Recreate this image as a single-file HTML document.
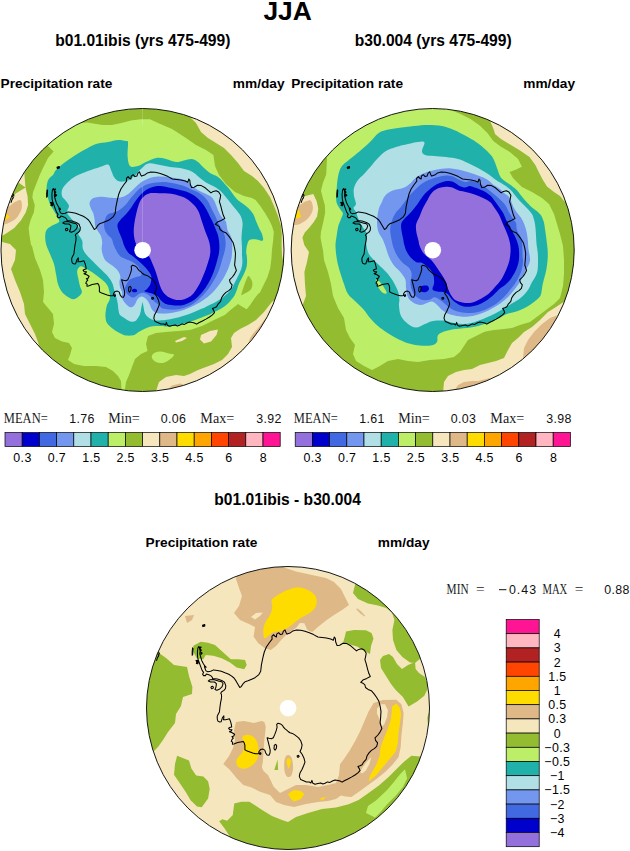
<!DOCTYPE html>
<html><head><meta charset="utf-8"><title>JJA Precipitation rate</title>
<style>html,body{margin:0;padding:0;background:#fff}svg{display:block}</style>
</head><body>
<svg width="630" height="851" viewBox="0 0 630 851">
<style>
text{font-family:"Liberation Sans",sans-serif;fill:#000}
.b{font-weight:bold}
.ser{font-family:"Liberation Serif",serif;font-size:14px;fill:#1a1a1a}
.num{font-family:"Liberation Sans",sans-serif;font-size:12.4px;fill:#111;letter-spacing:0.35px}
</style>
<rect width="630" height="851" fill="#fff"/>
<text class="b" x="287.6" y="20.4" font-size="26.4" text-anchor="middle">JJA</text>
<text class="b" x="142.8" y="45.5" font-size="15.6" text-anchor="middle">b01.01ibis (yrs 475-499)</text>
<text class="b" x="433.2" y="45.5" font-size="15.6" text-anchor="middle">b30.004 (yrs 475-499)</text>
<text class="b" x="0.6" y="88.2" font-size="13.7">Precipitation rate</text>
<text class="b" x="284.6" y="88.2" font-size="13.7" text-anchor="end">mm/day</text>
<text class="b" x="291.2" y="88.2" font-size="13.7">Precipitation rate</text>
<text class="b" x="575" y="88.2" font-size="13.7" text-anchor="end">mm/day</text>
<text class="b" x="287.6" y="505" font-size="15.6" text-anchor="middle">b01.01ibis - b30.004</text>
<text class="b" x="145.6" y="546.6" font-size="13.7">Precipitation rate</text>
<text class="b" x="429.6" y="546.6" font-size="13.7" text-anchor="end">mm/day</text>
<clipPath id="cp1"><circle cx="142.5" cy="250" r="141.5"/></clipPath>
<g clip-path="url(#cp1)" shape-rendering="geometricPrecision">
<rect x="-1" y="106.5" width="287" height="287" fill="#BCEE68"/>
<path fill="#93BC30" fill-rule="evenodd" d="M-50 -50H700V900H-50ZM140.5 119.3 150 119.2 158 123 172 129 186 138 196 145 206 150 213.4 155 215 166 219 175 226 184 235 192 244 196 252 198 255.6 200 260.3 205.9 265 212.9 269.1 220 272 225.9 273.8 231.7 273.2 240 272 249.4 271.4 258.8 270.2 268.2 267.3 277.6 262.6 287 260 292.6 258.1 294 254.3 298.8 250.5 304.5 246.7 309.3 241.9 306.4 238.1 304 231.4 309.3 224.8 315 214 320 202 326 190 330 178 331 166 332 156 333 148 336 146 344 147.5 351 141 354 135 359 132 367 129 375 126 382 124.5 393 121.5 389 121 381 118 376 113 371 106 367 96 366 84 366 74 364 68 360 70 355 72 348 69 343 62 341.5 55 338 52 332 54 324 53 314 48 308 43 302 44 292 43 280 40 270 35 258 32 246 31 245 29.5 235.5 28.6 227.9 30.5 220.2 33.8 212.6 34.8 205 32.4 197.4 32.9 192.6 36.2 184 40 174.5 43 168 48 158 53.6 151.6 49 147 42 140 72 114 81.4 123.1 87.1 122.5 94.8 123.7 102.4 125 111.9 125 121.4 123.1 131 120.6Z"/>
<path fill="#93BC30" d="M248.6 276C249.4 276.2 250.8 278.4 251.4 279.8C252 281.2 252.5 282.9 252.4 284.5C252.3 286.1 251.8 288 251 289.3C250.2 290.6 248.8 291.3 247.6 292.1C246.4 292.9 244.8 293.5 243.8 294C242.8 294.5 241.6 295.8 241.4 295C241.2 294.2 242.3 291.2 242.9 289.3C243.5 287.4 244.2 285.4 244.8 283.6C245.4 281.9 246.1 280.1 246.7 278.8C247.3 277.5 247.8 275.8 248.6 276Z"/>
<path fill="#BCEE68" d="M153 354C154.3 352.9 157.3 351.7 160 351.6C162.7 351.5 166.7 353 169 353.6C171.3 354.2 174 353.9 174 355C174 356.1 170.8 358.7 169 360C167.2 361.3 165.2 362.7 163 363C160.8 363.3 157.8 362.8 156 362C154.2 361.2 152.5 359.3 152 358C151.5 356.7 151.7 355.1 153 354Z"/>
<path fill="#F5E6BE" d="M190 117 192 119 196 123 201 132 208 138 216 143 224 148 231 155 238 163 244 171 252 176 258 181 264 188 270 197 274 206 278 216 281 226 281.8 234 281.6 245 282 256 283.6 263 292 264 292 100 190 100Z"/>
<path fill="#F5E6BE" d="M273 301 271 303 264 312 256 320 248 325 240 329 234 333 231 338 232 347 228 354 222 360 214 364 206 367 198 370 190 374 184 376 176 375 166 377 159 382 157 388 156 392 150 402 292 402 292 298Z"/>
<path fill="#F5E6BE" d="M175 341 184 337 187 338 182 341 176 342.4Z"/>
<path fill="#F5E6BE" d="M201 335 210 331 218 329.5 216.5 335 211 341.5 204 343.5 200 339.5Z"/>
<path fill="#F5E6BE" d="M24.3 173 25.5 187.4 27.6 196.4 28.1 205 25.7 212.6 21 220.2 14.3 227.9 7.6 232.6 2.9 235.5 -6 236 -6 170Z"/>
<path fill="#93BC30" d="M17 181.5 25.5 187.4 15.7 193.6 10 200.5 4 200 10 181Z"/>
<path fill="#F5E6BE" d="M0 241 4 242.5 10 244 16 250 15 260 11 269 15 280 20 292 24 304 25 314 30 324 35 334 38 342 39.6 348.5 30 352 -6 300 -6 241Z"/>
<path fill="#DEB887" d="M8.1 206.9C11 206.2 11.2 204.2 13.3 203.1C15.4 202 19.1 199.6 20.5 200.2C21.9 200.8 22 204.8 21.9 206.9C21.8 209 20.9 210.7 20 212.6C19.1 214.5 17.8 216.7 16.2 218.3C14.6 219.9 12.5 221.1 10.5 222.1C8.5 223.1 6.7 224 4.3 224.5C1.9 225 -2.6 227.9 -4 225C-5.4 222.1 -6 210 -4 207C-2 204 5.2 207.6 8.1 206.9Z"/>
<path fill="#FFDC00" d="M6.2 213.4 10 216.9 5.2 220 1 220 1 213Z"/>
<path fill="#DEB887" d="M264.5 319.5 262.2 322.8 257.2 328.9 252.8 333.9 250 338.3 248.3 343.5 260 350 290 325Z"/>
<path fill="#DEB887" d="M166 391 172 385.5 180 383.4 185 385 189 391Z"/>
<path fill="#20B2AA" d="M126 141C124.3 140.6 121 139.8 118 140C115 140.2 111.7 141.3 108 142C104.3 142.7 100 142.7 96 144C92 145.3 87.7 148 84 150C80.3 152 77.3 153.8 74 156C70.7 158.2 67 160.7 64 163C61 165.3 57.8 168.1 56 170C54.2 171.9 54.5 172.9 53.3 174.5C52.1 176.1 49.7 177.4 48.6 179.3C47.5 181.2 47 183.6 46.7 186C46.5 188.4 46.6 190.8 47.1 193.6C47.6 196.4 48.5 200.4 49.5 203.1C50.5 205.8 52 207.6 53.3 209.8C54.6 212 56.1 214.4 57.1 216.4C58.1 218.4 60 220.5 59 222.1C58 223.7 53.4 224.7 51.4 226C49.4 227.3 47.7 228.2 46.7 229.8C45.7 231.4 45.3 233.1 45.2 235.5C45.1 237.9 45.2 240.9 46 244C46.8 247.1 48.7 250.7 50 254C51.3 257.3 53 260.7 54 264C55 267.3 55.3 270.7 56 274C56.7 277.3 57 281 58 284C59 287 60.3 289.8 62 292C63.7 294.2 65.9 295.8 68 297C70.1 298.2 72.1 299.7 74.4 299C76.7 298.3 80.8 295 81.7 292.9C82.6 290.8 80.6 288.6 80 286.2C79.4 283.8 78.8 281 78.3 278.4C77.8 275.8 76.8 272.7 77.2 270.7C77.6 268.7 79.2 266.6 80.6 266.2C82 265.8 83.7 267.4 85.6 268.4C87.5 269.4 90 270.8 92.2 272.3C94.4 273.8 96.9 275.7 98.9 277.3C100.9 278.9 102.9 280.3 104.4 281.8C105.9 283.3 107 284.5 107.8 286.2C108.6 287.9 109 290.2 109.4 291.8C109.8 293.4 110 294.6 110 296C110 297.4 110 298.5 109.5 300C109 301.5 107.6 303.2 107 305C106.4 306.8 106 309 105.8 311C105.5 313 105.3 315 105.5 317C105.7 319 105.8 321.1 107 323C108.2 324.9 110.4 326.8 112.5 328.5C114.6 330.2 117.2 331.8 119.5 333C121.8 334.2 123.5 335.2 126 335.5C128.5 335.8 132.2 335.6 134.3 335C136.4 334.4 136.9 333.1 138.6 332.1C140.3 331.1 142.4 329.8 144.3 328.9C146.2 328 148.1 327.3 150 326.8C151.9 326.3 153.8 326.1 155.7 326C157.6 325.9 159.2 325.9 161.4 326C163.6 326.1 165.3 326.8 168.6 326.5C171.9 326.2 177.3 325.1 181.3 324.2C185.3 323.3 188.7 322.2 192.4 321C196.1 319.8 200.7 317.8 203.5 316.7C206.3 315.6 207.7 315.3 209.5 314.5C211.3 313.7 212.6 313 214.3 312.1C216.1 311.2 218.1 310.4 220 309.3C221.9 308.2 223.9 306.9 225.7 305.5C227.4 304.1 229 302.4 230.5 300.7C232 298.9 233.7 296.9 234.8 295C235.9 293.1 236.4 291.2 237.1 289.3C237.8 287.4 238.2 285.5 239 283.6C239.8 281.7 240.9 279.8 241.9 277.9C242.9 276 244 274 244.8 272.1C245.6 270.2 246.3 268.3 246.7 266.4C247.1 264.5 247.1 262.6 247.1 260.7C247.1 258.8 246.8 256.3 246.7 255C246.5 253.7 246.2 254.2 246.2 252.9C246.2 251.6 246.3 249 246.7 247C247.1 245 247.8 242.4 248.5 241.1C249.2 239.8 249.5 239.7 250.9 239.4C252.3 239.1 254.7 239.2 256.7 239.4C258.7 239.6 261.9 241.4 262.8 240.5C263.7 239.6 262.6 236.2 262 234.1C261.4 232 260.1 230.3 259.1 228.2C258.1 226 257.1 223.5 256.1 221.2C255.1 218.8 254.5 216.3 253.2 214.1C251.9 211.9 250.3 210 248.5 208.2C246.7 206.4 244.5 205 242.6 203.5C240.7 202 238.9 201.2 236.8 199C234.7 196.8 232.1 192.7 230 190C227.9 187.3 226 185.2 224 183C222 180.8 220.3 178.7 218 177C215.7 175.3 212.3 174.5 210 173C207.7 171.5 206 169.8 204 168C202 166.2 200 163.5 198 162C196 160.5 194.3 159.3 192 159C189.7 158.7 186.7 159.9 184 160.4C181.3 160.9 179 162.2 176 162C173 161.8 169.3 159.7 166 159C162.7 158.3 159.3 157.5 156 158C152.7 158.5 149 160.7 146 162C143 163.3 140.7 165.3 138 166C135.3 166.7 131.7 167.7 130 166C128.3 164.3 127.9 159.9 127.6 156C127.3 152.1 128.3 144.9 128 142.4C127.7 139.9 127.7 141.4 126 141Z"/>
<path fill="#B0E0E6" d="M148.4 163.5C145.2 164.2 143.2 167 141 169C138.8 171 137 173.6 135 175.4C133 177.2 130.8 179 129 180C127.2 181 125.8 181.3 124 181.5C122.2 181.7 119.7 181.8 118 181C116.3 180.2 115.2 178.8 114 177C112.8 175.2 112 172.1 111 170C110 167.9 109.8 165.1 108 164.6C106.2 164.1 103.3 165.9 100 167C96.7 168.1 92 169.5 88 171C84 172.5 79.3 174.2 76 176C72.7 177.8 70.3 179.8 68 182C65.7 184.2 63.4 186.7 62.4 189C61.4 191.3 61.4 194 62 196C62.6 198 64.8 199.3 66 201C67.2 202.7 68.8 204.2 69 206C69.2 207.8 66.8 210.2 67 212C67.2 213.8 68.5 215 70 217C71.5 219 74.3 221.8 76 224C77.7 226.2 79.6 228.3 80 230C80.4 231.7 77.9 232.2 78.3 234C78.7 235.8 81.5 238.3 82.2 240.7C83 243.1 82 246 82.8 248.4C83.5 250.8 85 252.9 86.7 255.1C88.5 257.3 90.9 259.4 93.3 261.8C95.7 264.2 98.7 267.2 101.1 269.6C103.5 272 105.9 274 107.8 276.2C109.7 278.4 111.1 280.5 112.2 282.9C113.3 285.3 113.7 288.1 114.4 290.7C115.2 293.3 116.1 296.2 116.7 298.4C117.3 300.6 117.5 302.1 117.8 304C118.1 305.9 118.1 308.2 118.5 310C118.9 311.8 119 313.7 120 315C121 316.3 122.9 316.9 124.3 317.9C125.7 318.8 127.3 320 128.6 320.7C129.9 321.4 130.9 321.8 132.1 321.8C133.3 321.8 134.7 321.4 135.7 320.7C136.7 320 137.1 319 137.9 317.9C138.7 316.8 139.6 315.3 140.4 314.3C141.2 313.3 141.8 312.1 142.5 312C143.2 311.9 143.7 312.8 144.6 313.6C145.5 314.5 146.8 316.2 147.9 317.1C149 318.1 150.1 318.8 151.4 319.3C152.7 319.9 154.3 320.2 155.7 320.4C157.1 320.6 158.4 320.5 160 320.4C161.6 320.3 162.8 320.3 165 320C167.2 319.7 170.3 319.2 173.3 318.5C176.3 317.8 179.7 316.9 182.9 315.9C186.1 314.9 189.4 313.8 192.4 312.7C195.4 311.6 198.9 309.9 201 309C203.1 308.1 203.2 308.1 204.8 307.4C206.4 306.6 208.6 305.4 210.5 304.5C212.4 303.6 214.4 302.6 216.2 301.7C217.9 300.8 219.4 299.9 221 298.8C222.6 297.7 224.3 296.3 225.7 295C227.1 293.7 228.3 292.6 229.5 291.2C230.7 289.8 232 288 232.9 286.4C233.8 284.8 234.4 283.3 235.2 281.7C236 280.1 236.8 278.5 237.6 276.9C238.4 275.3 239.3 273.9 240 272.1C240.7 270.4 241.5 268.3 241.9 266.4C242.3 264.5 242.4 262.6 242.4 260.7C242.4 258.8 242.1 257.3 242 255C241.9 252.7 242.1 249.7 242 247C241.9 244.3 241.5 241.5 241.5 238.8C241.5 236.1 241.8 233.2 242 230.6C242.2 228 242.8 225.8 242.6 223.5C242.4 221.2 241.9 218.7 240.9 216.5C239.9 214.3 238.3 212.6 236.8 210.6C235.3 208.6 233.6 206.6 232 204.7C230.4 202.8 229.2 201.2 227.4 199C225.6 196.8 223.2 193.6 221 191.5C218.8 189.4 216.5 188 214 186.5C211.5 185 208.3 183.9 206 182.5C203.7 181.1 202 179.6 200 178C198 176.4 196 174.3 194 173C192 171.7 190.3 170.8 188 170C185.7 169.2 183 168.5 180 168C177 167.5 173.3 167.5 170 167C166.7 166.5 163.6 165.6 160 165C156.4 164.4 151.6 162.8 148.4 163.5Z"/>
<path fill="#20B2AA" d="M139.6 315.5 140.8 311 141.6 306 142.5 301.8 143.4 306 144.2 311 145.4 315Z"/>
<path fill="#7397EE" d="M160 176.5C157.1 176.4 155.8 176.7 153.7 177.1C151.6 177.5 149.4 178.2 147.3 179C145.2 179.8 142.9 180.9 141 182.2C139.1 183.5 137.6 185.1 135.9 186.7C134.2 188.3 132.5 190.2 130.8 191.7C129.1 193.2 127.4 194.6 125.7 195.6C124 196.6 122.5 197.1 120.6 197.5C118.7 197.9 116.4 198.1 114.3 198.1C112.2 198.1 110 197.7 107.9 197.5C105.8 197.3 103.7 196.8 101.6 196.8C99.5 196.8 96.9 197.1 95.2 197.5C93.5 197.9 92.4 198.5 91.4 199.4C90.5 200.3 89.6 201.7 89.5 203.2C89.4 204.7 90.2 206.6 90.8 208.3C91.4 210 92.7 211.4 93.3 213.3C93.9 215.2 94.3 217.6 94.6 219.7C94.9 221.8 94.7 224.1 95.2 226C95.7 227.9 96.8 229.4 97.8 231.1C98.8 232.8 100.3 234.3 101 236.2C101.7 238.1 102.1 240.4 102.2 242.5C102.3 244.6 101.5 246.8 101.6 248.9C101.7 251 102.2 253.2 102.9 255.2C103.6 257.2 104.3 259.2 106 261C107.7 262.8 111.3 264.6 113.3 266.2C115.3 267.8 116.6 269 117.8 270.7C119 272.4 120 274.4 120.3 276.2C120.6 278 119.5 279.9 119.4 281.7C119.4 283.5 119.5 285.3 120 287.2C120.5 289.1 121.9 291.1 122.2 292.8C122.5 294.5 121.7 295.9 122 297.5C122.3 299.1 123.2 300.6 124.3 302.1C125.4 303.6 127.3 305.6 128.6 306.4C129.9 307.2 131 307.5 132.1 307.1C133.2 306.8 134.2 305.5 135 304.3C135.8 303.1 136.3 301.2 137.1 300C137.9 298.8 139 297.6 140 297.1C141 296.6 141.8 296.4 142.9 296.8C144 297.2 145.3 298.2 146.4 299.3C147.5 300.4 148.5 302.1 149.3 303.6C150.1 305.2 150.6 307.2 151.4 308.6C152.2 310 153.2 311.3 154.3 312.1C155.4 312.9 156.6 312.9 157.9 313.2C159.2 313.4 160.6 313.6 162.1 313.6C163.6 313.7 164.9 313.7 167 313.5C169.1 313.3 172 312.9 174.9 312.3C177.8 311.7 181.2 310.9 184.4 309.8C187.6 308.7 190.8 307.2 194 305.6C197.2 304 200.6 302 203.5 300C206.4 298 209 295.9 211.4 293.7C213.8 291.4 215.8 289 217.8 286.5C219.8 284 221.6 281.5 223.3 278.6C225 275.7 226.8 272 228.1 269C229.3 266 230.2 262.8 230.8 260.7C231.4 258.6 231.5 258.5 231.7 256.7C231.9 254.9 232.1 252.2 232.2 250C232.3 247.8 232.4 245.5 232.2 243.3C232 241.1 231.8 238.7 231.1 236.7C230.4 234.7 228.5 232.9 227.8 231.1C227.1 229.2 227.1 227.3 226.7 225.6C226.3 223.9 226.3 222.4 225.6 221.1C224.8 219.8 223.3 219.3 222.2 217.8C221.1 216.3 219.8 214 218.9 212.2C218 210.3 217.4 208.5 216.7 206.7C215.9 204.8 215.3 202.8 214.4 201.1C213.5 199.4 212.8 198 211.1 196.7C209.4 195.4 206.6 194.4 204.4 193.3C202.2 192.2 199.9 191.2 197.8 190C195.7 188.8 194.1 187.7 192 186C189.9 184.3 188.6 181.4 185.2 180C181.8 178.6 175.5 178 171.3 177.4C167.1 176.8 162.9 176.6 160 176.5Z"/>
<path fill="#4169E1" d="M160 182.2C157.3 182.3 154.7 182.5 152.4 182.9C150.1 183.3 148.1 183.9 146 184.8C143.9 185.8 141.6 187.1 139.7 188.6C137.8 190.1 136.1 192.1 134.6 193.7C133.1 195.3 132.1 196.5 130.8 198.1C129.5 199.7 128.3 201.7 127 203.2C125.7 204.7 124.7 205.7 123.2 207C121.7 208.3 119.8 209.9 118.1 210.8C116.4 211.8 114.6 212.2 113 212.7C111.4 213.2 109.8 213.3 108.6 214C107.4 214.7 106.8 215.5 106 217.1C105.2 218.7 104.3 221.4 104.1 223.5C103.9 225.6 104.2 227.9 104.8 229.8C105.4 231.7 106.8 233.4 107.9 234.9C109.1 236.4 110.7 237 111.7 238.7C112.7 240.4 112.9 243 113.7 245.1C114.5 247.2 115.7 249.5 116.8 251.4C117.9 253.3 119 255.2 120.5 256.5C122 257.8 123.6 258 125.6 258.9C127.5 259.8 130.2 260.5 132.2 261.7C134.2 262.9 136.4 264.4 137.8 266.1C139.2 267.8 140.1 270.1 140.6 271.7C141.1 273.3 141.9 274.7 141.1 275.6C140.3 276.5 137.4 276.6 135.6 277.2C133.8 277.8 131.5 278.3 130 279.4C128.5 280.5 127.5 282.4 126.7 283.9C125.9 285.4 125 286.8 125 288.3C125 289.8 125.7 291.7 126.4 292.9C127.1 294.1 128.3 294.9 129.3 295.7C130.3 296.5 131.4 297.4 132.5 297.5C133.6 297.6 134.7 296.9 135.7 296.4C136.7 295.9 137.6 294.9 138.6 294.3C139.6 293.7 140.3 293.1 141.4 292.9C142.5 292.7 143.8 292.8 145 293.2C146.2 293.6 147.5 294.2 148.6 295C149.7 295.8 150.6 296.9 151.4 297.9C152.2 298.8 152.7 299.8 153.6 300.7C154.5 301.6 156 302.7 157.1 303.6C158.2 304.6 159 305.6 160 306.4C161 307.2 161.5 308.1 162.9 308.6C164.3 309.1 166.5 309.4 168.6 309.5C170.7 309.6 173.2 309.8 175.7 309.5C178.2 309.2 181 308.8 183.7 308C186.3 307.2 189.1 306.3 191.6 304.8C194.1 303.3 196.4 301.2 198.7 299.2C200.9 297.2 203.1 295.1 205.1 292.9C207.1 290.6 208.9 288.2 210.6 285.7C212.3 283.2 213.9 280.6 215.4 277.8C216.9 275 218.3 272.1 219.4 269C220.5 265.9 221.4 262.3 222.2 259.5C223 256.7 223.8 254.5 224.4 252.2C225 249.9 225.4 247.8 225.6 245.6C225.8 243.4 225.6 240.9 225.3 238.9C225 236.9 224.6 235.2 223.9 233.3C223.2 231.5 222.1 229.7 221.1 227.8C220.1 226 218.6 223.9 217.8 222.2C217 220.5 216.8 219.5 216.1 217.8C215.3 216.1 214.2 214 213.3 212.2C212.4 210.3 211.5 208.5 210.6 206.7C209.7 204.8 209 202.9 207.8 201.1C206.6 199.3 205 197.6 203.3 196.1C201.6 194.6 199.8 193.3 197.8 192.2C195.8 191.1 193.6 190.6 191.1 189.5C188.6 188.4 186.4 186.8 182.7 185.6C179 184.4 172.5 183.1 168.7 182.5C164.9 181.9 162.7 182.1 160 182.2Z"/>
<path fill="#0000CD" d="M160 186C157.1 185.8 155.8 186.2 153.7 186.7C151.6 187.2 149.4 187.9 147.3 189.2C145.2 190.5 142.9 192.4 141 194.3C139.1 196.2 137.6 198.3 135.9 200.6C134.2 202.9 132.5 206 130.8 208.3C129.1 210.6 127.4 212.7 125.7 214.6C124 216.5 122 218 120.6 219.7C119.2 221.4 117.8 222.9 117.5 224.8C117.2 226.7 118 228.8 118.7 231.1C119.4 233.4 121 236.2 121.9 238.7C122.9 241.2 123.3 244 124.4 246.3C125.5 248.6 126.8 251 128.3 252.7C129.8 254.4 131.2 254.8 133.3 256.5C135.4 258.2 138.5 260.9 140.8 263C143.1 265.1 145.4 267.2 147.1 269.4C148.8 271.6 150.6 273.6 151.2 276C151.8 278.4 151.1 281.8 150.4 284C149.7 286.2 148 287.8 147 289C146 290.2 144.1 290.5 144.4 291.1C144.7 291.7 147.4 292.3 148.9 292.8C150.4 293.3 151.9 293.4 153.3 293.9C154.7 294.4 156.2 294.9 157.5 296C158.8 297.1 159.8 299.3 161.1 300.6C162.4 301.9 164.2 303.2 165.6 303.9C167 304.6 167.6 304.5 169.4 304.8C171.2 305.1 174 305.6 176.5 305.6C179 305.6 181.9 305.5 184.4 304.8C186.9 304.1 189.3 302.9 191.6 301.6C193.8 300.3 195.9 298.7 197.9 296.8C199.9 294.9 201.8 292.8 203.5 290.5C205.2 288.2 206.9 285.8 208.3 283.3C209.8 280.8 211 278.2 212.2 275.4C213.4 272.6 214.5 269.6 215.4 266.7C216.3 263.8 217.2 260.1 217.8 257.9C218.4 255.7 218.6 255.2 218.9 253.3C219.2 251.4 219.4 248.9 219.4 246.7C219.4 244.5 219.2 242.1 218.9 240C218.6 237.9 218.4 236.2 217.8 234.4C217.2 232.6 216.3 230.8 215.6 228.9C214.8 227.1 214.2 225.3 213.3 223.3C212.4 221.3 211.1 218.9 210 216.7C208.9 214.5 207.8 212.1 206.7 210C205.6 207.9 204.6 206.2 203.3 204.4C202 202.6 200.6 201 198.9 199.4C197.2 197.8 195.3 196.3 193.3 195C191.3 193.7 188.9 192.5 186.7 191.7C184.5 190.9 182.6 190.6 180 190C177.4 189.4 174.6 188.8 171.3 188.1C168 187.4 162.9 186.2 160 186Z"/>
<path fill="#0000CD" d="M132 290C132.2 289.4 133.7 288.8 134.5 288.8C135.3 288.8 136.7 289.5 137 290C137.3 290.5 137.2 291.6 136.5 292C135.8 292.4 133.8 292.5 133 292.2C132.2 291.9 131.8 290.6 132 290Z"/>
<path fill="#9370DB" d="M142.1 198.3C143.8 196.3 145.7 194.5 148.4 193.7C151.2 192.8 154.8 193.2 158.6 193.2C162.4 193.2 167.7 193.2 171.3 193.7C174.9 194.2 177.6 195.3 180 196.1C182.4 196.9 183.8 197.3 185.6 198.3C187.4 199.3 189.4 200.8 191.1 202.2C192.8 203.6 194.3 205 195.6 206.7C196.9 208.4 198 210.2 198.9 212.2C199.8 214.2 200.4 216.7 201.1 218.9C201.8 221.1 202.6 223.4 203.3 225.6C204.1 227.8 204.8 230.2 205.6 232.2C206.3 234.2 207.1 235.8 207.8 237.8C208.5 239.8 209.4 242.2 209.8 244.4C210.2 246.6 210.4 249 210.4 251.1C210.4 253.2 209.9 255.3 209.6 257C209.2 258.7 208.9 259.5 208.3 261.5C207.7 263.5 206.8 266.4 205.9 269C205 271.6 203.8 274.5 202.7 277C201.6 279.5 200.7 281.9 199.5 284.1C198.3 286.4 197 288.5 195.6 290.5C194.2 292.5 192.7 294.6 190.8 296C188.9 297.4 186.8 298.5 184.4 299.2C182 299.9 179 300.3 176.5 300C174 299.7 171.5 298.8 169.4 297.6C167.3 296.4 165.3 294.6 163.8 292.9C162.3 291.2 161.5 289.4 160.6 287.3C159.7 285.2 159.1 282.7 158.3 280.2C157.5 277.7 156.8 274.8 155.9 272.2C155 269.6 153.8 266.8 152.7 264.3C151.6 261.8 150.8 259.2 149.5 257.1C148.2 255 146.5 253.4 144.6 251.6C142.7 249.8 139.6 248.3 138 246.5C136.4 244.7 135.7 243.5 135 241C134.3 238.5 133.7 235 133.7 231.3C133.7 227.6 134.4 222.8 135.2 218.6C136 214.4 137.2 209.3 138.3 205.9C139.5 202.5 140.4 200.3 142.1 198.3Z"/>
<path d="M142.4 108.5V124.5M142.4 186V250" stroke="#fff" stroke-opacity="0.3" stroke-width="0.7" fill="none"/>
<g transform="translate(-145.5 -458)" fill="none" stroke="#000" stroke-width="1.05" stroke-linejoin="round" stroke-linecap="round">
<path d="M198.8 646.6 199.3 647.5 200.2 650.4 199.8 653.7 200.7 657 201.7 660.4 203.1 663.2 204.5 665.6 205 668.5 206 670.9 207.9 671.8 210.7 671.3 213.6 669.9 217.4 670.4 221.2 671.3 225 672.8 228.8 674.2 231.7 676.1 234 678 236 680.9 237.9 684.2 239.8 687.5 241.2 686.6 243.1 683.7 245 681.8 248 680.8 251.7 679.2 255 677.7 258.6 674.9 260.7 671.3 261.4 664.9 262.9 657.7 264.3 652 266.4 647 269.3 642.7 272.1 639.1 271.9 636.3 273.6 634.6 275 636.3 276.4 637 276.7 634.1 278.6 632.7 280.4 634.6 282.4 634.1 283.3 631.3 285 629.9 286.1 632.7 287.1 634.1 290 633.1 292.9 630.9 296.4 629.9 300.7 630.3 305 631.3 309.3 632.7 313.6 634.6 317.9 637 322.1 637.4 326.4 638 330.7 639.1 333.3 640.3 334.3 637 335.3 638.4 335.7 642 337.1 645.6 339.7 645.2 342.9 643.2 346.8 643.6 350.7 645.8 353.9 648.7 356.5 650.9 358.7 649.4 361.7 648.7 364.2 650 366.2 653.3 365.5 657.1 364.9 659.7 366.2 663.6 367.5 668.8 368.8 673.3 370.3 676.5 366.8 678.4 362.9 680.1 360.7 682.3 362.9 683.2 364.9 684.9 365.5 687.5 368.1 689.4 371.3 690.7 373.9 693.6 376.5 697.2 378.8 701.1 380.1 706.2 381 711.4 380.6 717.9 380.1 723 381.9 728.6 380 732.1 377.9 735 375 737.9 375.7 740.7 377.6 742.9 376.7 746.4 374.3 748.6 371.4 750.4 369 752.9 367.1 755.7 366.1 759.3 363.6 762.1 362.1 764.7 360 765.7 357.9 766.4 359.3 768.6 360 770.7 357.9 772.9 355 775 351.4 777.1 347.9 779 344.3 780.7 342.1 782.1 340 781 337.9 780.4 335 780 332.4 781 330 782.4 327.6 781.9 325 783.3 322.9 783.9 320.7 782.9 317.9 783.6 315 784.3 312.9 783.3 311.9 780.4 311 782.9 309.3 782.1 306.4 781.9 303.6 780.7 300.7 779.6 299.3 776.4 300 772.9 302.1 769.3 303.6 765.7 305 762.1 303.9 757.9 302.1 754.3 300 751.4 301.4 748.6 302.1 745 300.7 740.7 298.6 737.9 296.4 736.1 294.8 734.9 292.4 733.4 290 732.8 288.1 731.5 286.7 730.1 284.8 728.7 283.5 727.2 282.4 725.3 280.5 723.9 278.1 723.2 276.7 724.4 277.1 727.2 276.2 730.6 274.8 734.4 273.3 737.7 271.4 738.7 269 738.2 267.1 737.7 267.6 739.6 268.6 743.4 269.5 747.2 270.2 750.1 270 753 269 755.3 267.1 754.9 265.7 753 264.8 750.1 262.9 749.1 260.5 749.6 259 751.5 258.8 753.6 257.7 753.8 255.5 753.7 252.7 752.9 249.9 752 247.2 751.1 244.9 749.8 244.9 745.3 244.4 743.3 243.3 741.4 237.7 742.6 233.9 744 232.4 744.2 232.7 742.2 231.3 741.4 231.9 739.6 233.3 738.1 231.9 736.7 233.8 736 234.6 734.2 232.2 732.7 229.4 731.8 231.3 731.1 231.9 729.8 229.7 729.8 228.6 728.2 230.2 727.3 231.7 727 231.3 724.4 230.5 721.4 229.4 718.7 227.7 719.2 225.5 719.8 223.3 719.8 223.9 717.8 223.8 715.9 222.4 717.8 221.7 719.8 221.1 721.8 219.7 722 217.9 721.1 217.3 719.2 217.2 716.4 217.9 714.8 219.4 712 219.9 707.6 220.5 703.1 221.3 699.2 221.6 696.5 221.4 694.3 220.7 693.2 221.7 691.8 224 690.4 225.5 688.5 225.8 685.6 224.5 682.3 221.7 680.4 217.4 679.1 212.6 678.5 212.1 677 210.7 675.6 208.8 674.7 206.4 674 205.5 675.6 203.6 675.6 202.6 674.2 203.6 672.3 202.1 670.4 200.7 666.6 199.3 662.8 198.3 659.9 197.6 657 197.4 652.3 197.9 648Z"/>
<path d="M208.3 680.9 210 679.7 213.6 679.6 218.3 680.9 221.7 681.8 223.1 683.7 222.1 686.6 219.8 689 216.9 690.2 215 689.4 216 687 216.4 683.7 214.5 682 210.7 682Z"/>
<path d="M210.9 687.5 211.5 686.4 212.7 686.3 213.4 687.4 212.9 688.6 211.6 688.7Z"/>
<path d="M192.6 647.8 192.2 651.5 192.2 655.2"/>
<path d="M193.1 648.4 192.8 652 192.7 654.6"/>
<path fill="#000" d="M199.3 647.2 201.2 647 200.4 648.2Z"/>
<path d="M200.7 652 202.2 653.2 201 654.4Z"/>
<path d="M200.2 649 201.4 650.2 200.4 651Z"/>
<path fill="#000" d="M196 660.4 197.6 660.2 198.4 661.8 197.8 663.8 196.4 663.4 196.9 662Z"/>
<path d="M204.6 667 205.6 666.2 206 667.6"/>
<path fill="#000" d="M202.5 625.3 204.7 624.5 204.9 625.9 202.9 626.6Z"/>
<path d="M157.6 653.6 158.8 655.6 157.4 657.8 156.6 660.4"/>
<path d="M158.6 652 159.4 654"/>
<path d="M274.3 745.3 275.7 744.4 276.7 745.8 276.2 748.7 275 750.1 274 748.7Z"/>
<path d="M297.2 755.8 298.4 755.4 299.2 756.4 298.2 757.3 297.3 756.9Z"/>
<path d="M259.3 753.2 260.5 752.6 261 753.8 260 754.5Z"/>
</g>
</g>
<circle cx="142.6" cy="250.2" r="8.3" fill="#fff"/>
<circle cx="142.5" cy="250" r="141.5" fill="none" stroke="#181818" stroke-width="1.0"/>
<clipPath id="cp2"><circle cx="432.7" cy="250" r="141.5"/></clipPath>
<g clip-path="url(#cp2)" shape-rendering="geometricPrecision">
<rect x="289.2" y="106.5" width="287" height="287" fill="#BCEE68"/>
<path fill="#93BC30" fill-rule="evenodd" d="M-50 -50H700V900H-50ZM451.4 110.3 461 114.3 470.5 119 480 125.7 487.6 133.3 493.3 141 501 146.7 510.5 152.4 518.1 159 521.9 166.7 516.2 169.5 509.5 172 513 178 522 187 532 192 542 198 549 204 554 214 557 224 560 234 563 246 564 260 564 274 563 286 560 298 554 304 546 310 538 316 530 322 520 325 512 328 504 329 494 330 488 331 484 332 476 336 468 340 464 346 460 352 454 357 444 359 430 360 418 362 408 361 398 359 388 361 378 367 372 370 364 366 356 361 353 354 355 345 350 338 346 330 344 318 338 308 333 296 331 284 328 272 324 260 323 250 321.9 245 320.5 237.4 321 231.7 323.3 222.1 325.2 212.6 324.8 205 322.9 198.3 321 190.7 322.9 183.1 326.2 174.5 326.7 165 327 158 316 150 350 108 440 98 450 103Z"/>
<path fill="#F5E6BE" d="M489.5 118.5 490.5 121.9 493.3 128.6 495.2 134.3 501 139 510.5 144.8 520 150.5 529.5 157.1 535.2 164.8 539 172.4 542.9 180 547 186.5 554 192 560 196 564 201 567 203 585 203 585 100 489 100Z"/>
<path fill="#F5E6BE" d="M567 299.5 565 301 556 307 548 312 540 320 532 327 524 332 518 338 512 343 508 350 504 358 496 361 488 363 480 365 472 369 464 370 456 372 448 376 444 382 443 393 440 402 592 402 592 296Z"/>
<path fill="#F5E6BE" d="M301 197 303.3 196.4 313.3 194 316.7 201.2 318.3 208.8 317.1 216.4 313.8 222.1 309 227.9 304.8 232.6 302.4 237.4 304.3 245 309 252 307 262 304.4 272 305 284 306 296 303 304 294 304 284 250 294 195Z"/>
<path fill="#DEB887" d="M299.5 205C301.9 204.5 302.5 202.9 304.3 202.1C306.1 201.3 309.1 199.6 310.5 200.4C311.9 201.2 312.7 204.9 312.9 206.9C313.1 208.9 312.7 210.7 311.9 212.6C311.1 214.5 309.5 216.7 308.1 218.3C306.7 219.9 304.9 221.1 303.3 222.1C301.7 223.1 300 224 298.6 224.5C297.2 225 296.6 224.8 294.8 225C293 225.2 288.8 229.3 288 226C287.2 222.7 288.1 208.5 290 205C291.9 201.5 297.1 205.5 299.5 205Z"/>
<path fill="#FFDC00" d="M298.6 209.3 301 216.9 296.2 218.8 292 219 292 209Z"/>
<path fill="#DEB887" d="M560 314 558 315 550 318 542 324 534 332 528 340 524 348 523 358 521 362 540 375 575 330Z"/>
<path fill="#DEB887" d="M453 391.5 455 389.4 458 385 464 382 472 381 478 381 484 379.5 489.5 378 494 396 452 398Z"/>
<path fill="#20B2AA" d="M428 125C423.3 125 419 125.5 414 126C409 126.5 402.7 127.3 398 128C393.3 128.7 389.3 129.1 386 130C382.7 130.9 380.7 131.5 378 133.5C375.3 135.5 373 139.1 370 142C367 144.9 363.3 148.2 360 151C356.7 153.8 352.9 156.7 350 159C347.1 161.3 344.6 163.1 342.9 165C341.1 166.9 340.4 168.3 339.5 170.7C338.6 173.1 338.1 176.3 337.6 179.3C337.1 182.3 336.9 186 336.7 188.8C336.5 191.7 336.2 194 336.2 196.4C336.2 198.8 336 200.9 336.7 203.1C337.4 205.3 339.5 208.1 340.5 209.8C341.5 211.6 342.9 211.9 342.9 213.6C342.9 215.3 341.3 218 340.5 220.2C339.7 222.4 338.7 224.3 338.1 226.9C337.5 229.5 337.1 232.3 336.7 235.5C336.3 238.7 335.4 241.9 335.5 246C335.6 250.1 336.2 255.7 337 260C337.8 264.3 338.8 268 340 272C341.2 276 342.7 280.3 344 284C345.3 287.7 346 291 348 294C350 297 353.3 299.3 356 302C358.7 304.7 361.7 307.3 364 310C366.3 312.7 367.7 315.3 370 318C372.3 320.7 375.3 323.7 378 326C380.7 328.3 383 330 386 332C389 334 392.3 336.1 396 338C399.7 339.9 404 342 408 343.3C412 344.6 416 345.3 420 345.6C424 345.9 429.2 345.9 432 345.3C434.8 344.7 436.1 343.4 437 342C437.9 340.6 437.1 338.2 437.5 336.8C437.9 335.4 438 334.6 439.4 333.7C440.8 332.8 443.7 331.8 445.8 331.1C447.9 330.4 450 329.8 452.1 329.4C454.2 329 455.8 329.1 458.5 328.8C461.2 328.5 465.3 328.3 468.6 327.8C471.9 327.3 474.9 326.7 478.1 325.9C481.3 325.1 484.4 324.1 487.6 323C490.8 321.9 494 320.5 497.1 319C500.2 317.5 503.7 315.3 506.3 314.2C508.9 313.1 510.4 313.2 512.7 312.5C515 311.8 517.8 311.1 520.3 310C522.8 308.9 525.6 307.6 527.9 306.2C530.2 304.8 532.4 303.2 534.3 301.7C536.2 300.2 538.2 298.8 539.4 297.3C540.6 295.8 540.8 294.9 541.3 292.9C541.8 290.9 542 287.8 542.5 285.2C543 282.6 543.8 280.1 544.4 277.6C545 275.1 545.8 272.8 546.3 270C546.8 267.2 547.2 263.8 547.5 261C547.8 258.2 547.8 255.9 547.8 253.3C547.8 250.7 547.5 248.4 547.2 245.6C546.9 242.8 546.5 239.5 546.1 236.7C545.7 233.9 545.4 231.3 545 228.9C544.6 226.5 544.5 224.4 543.9 222.2C543.2 220 542.3 217.4 541.1 215.6C539.9 213.8 538.4 212.6 536.7 211.1C535 209.6 533 208.4 531.1 206.7C529.2 205 527.3 202.9 525.6 201.1C523.9 199.2 522.6 197.4 521.1 195.6C519.6 193.8 518.6 191.8 516.7 190C514.9 188.2 512.1 186.1 510 184.5C507.9 182.9 505.7 181.9 504 180.5C502.3 179.1 501.2 178.1 500 176C498.8 173.9 498.2 171 497 168C495.8 165 494.8 161 493 158C491.2 155 488.8 152.7 486 150C483.2 147.3 479.3 144.3 476 142C472.7 139.7 469.7 138 466 136C462.3 134 458 131.7 454 130C450 128.3 446.3 126.8 442 126C437.7 125.2 432.7 125 428 125Z"/>
<path fill="#BCEE68" d="M376.2 278.7C376.7 278.7 378 279.9 379 280.9C380 281.9 381.1 283.2 382.2 284.7C383.3 286.2 384.6 288.4 385.4 289.8C386.1 291.2 386.8 292.3 386.7 292.9C386.6 293.5 385.6 293.8 384.8 293.6C384 293.4 382.6 292.6 381.6 291.7C380.6 290.8 379.8 289.8 379 288.5C378.2 287.2 377.6 285.3 377.1 284C376.6 282.7 376 281.8 375.9 280.9C375.8 280 375.7 278.7 376.2 278.7Z"/>
<path fill="#B0E0E6" d="M418 142C415.3 142.3 411.7 143.2 408 144C404.3 144.8 399.7 145.8 396 147C392.3 148.2 389 149.2 386 151C383 152.8 380.3 155.7 378 158C375.7 160.3 374.3 162.3 372 165C369.7 167.7 366.3 171.5 364 174C361.7 176.5 359.7 177.7 358 180C356.3 182.3 354.7 185.3 354 188C353.3 190.7 353.7 193.3 354 196C354.3 198.7 356.1 202 356 204C355.9 206 353.5 206.7 353.5 208C353.5 209.3 355.2 210.3 356 212C356.8 213.7 357 215.7 358 218C359 220.3 360.5 223.3 362 226C363.5 228.7 366.3 231.3 367 234C367.7 236.7 365.8 239 366 242C366.2 245 367 249.3 368 252C369 254.7 370.2 255.8 372 258C373.8 260.2 377.2 263.2 379 265C380.8 266.8 381.5 267.4 382.9 268.8C384.3 270.2 385.9 271.7 387.3 273.3C388.7 274.9 389.9 276.6 391.1 278.3C392.3 280 393.4 281.7 394.3 283.4C395.2 285.1 396.1 286.8 396.8 288.5C397.5 290.2 398.3 291.7 398.7 293.6C399.1 295.5 399.3 297.9 399.4 300C399.4 302.1 398.7 303.3 399 306C399.3 308.7 399.5 313 401 316C402.5 319 405.5 322.1 408 324C410.5 325.9 413.2 327.6 416 327.6C418.8 327.6 422.2 325.1 425 324C427.8 322.9 429.8 321.6 433 321C436.2 320.4 441.7 320.4 444.5 320.6C447.3 320.8 447.7 321.6 449.6 322C451.5 322.4 453.7 323 456 323.3C458.3 323.6 461.1 324.1 463.6 324C466.1 323.9 468.5 323.6 471.2 323C473.9 322.4 477 321.2 479.7 320.2C482.4 319.2 485 318.2 487.6 317C490.2 315.8 493 314.6 495.6 313.2C498.2 311.8 501.1 310.2 503.5 308.8C505.9 307.4 508.3 305.8 509.8 304.8C511.3 303.8 511.2 303.9 512.7 303C514.2 302.1 517.1 300.6 519 299.2C520.9 297.8 522.5 296.5 524.1 294.8C525.7 293.1 527.3 291 528.6 289C529.9 287 530.5 284.8 531.7 282.7C532.9 280.6 534.6 278.4 535.6 276.3C536.6 274.2 537.2 272.4 537.6 270C538 267.6 538 264.8 538 262C538 259.2 538 256 537.8 253.3C537.6 250.6 537 248.2 536.7 245.6C536.4 243 536.3 240.6 536.1 237.8C535.9 235 535.9 231.7 535.6 228.9C535.3 226.1 535 223.5 534.4 221.1C533.8 218.7 533.3 216.4 532.2 214.4C531.1 212.4 529.3 210.6 527.8 208.9C526.3 207.2 524.8 205.9 523.3 204.4C521.8 202.9 520.4 201.7 518.9 200C517.4 198.3 515.8 196.1 514.4 194.4C513 192.7 512.2 191.5 510.6 190C509 188.5 507.4 187.2 505 185.5C502.6 183.8 498.8 181.9 496 180C493.2 178.1 491 176 488 174C485 172 481.3 169.8 478 168C474.7 166.2 471.3 164.5 468 163C464.7 161.5 461.7 160 458 159C454.3 158 450 157.5 446 157C442 156.5 437.5 156.3 434 156C430.5 155.7 427 155.8 425 155C423 154.2 422.1 153.1 422 151C421.9 148.9 425.1 143.9 424.4 142.4C423.7 140.9 420.7 141.7 418 142Z"/>
<path fill="#7397EE" d="M448.6 168.3C444.4 168.2 439.9 169 435.9 169.8C431.9 170.6 427.8 171.6 424.4 172.9C421 174.2 418.1 176 415.6 177.9C413.1 179.8 411.3 182.6 409.2 184.3C407.1 186 405.6 187.1 402.9 188.1C400.1 189.1 395.7 189.3 392.7 190.6C389.7 191.9 387 193.6 385.1 195.7C383.2 197.8 382.4 200.9 381.3 203.3C380.2 205.7 379.2 206.9 378.5 210C377.8 213.1 377 218.3 377 222C377 225.7 377.5 229 378.5 232C379.5 235 381.8 237.3 383 240C384.2 242.7 385 245.2 386 248C387 250.8 387.6 253.8 388.9 256.7C390.2 259.6 392.1 263.1 394 265.6C395.9 268.1 398.4 269.6 400.3 271.9C402.2 274.2 404.4 276.8 405.4 279.5C406.3 282.2 405.6 285 406 288C406.4 291 406.7 294.9 407.9 297.3C409.1 299.7 410.9 301.1 413 302.4C415.1 303.7 418.3 304.8 420.6 304.9C422.9 305 425.1 303.5 427 302.9C428.9 302.3 430.4 301.2 432.1 301.5C433.8 301.8 435.4 303.5 437.1 304.9C438.8 306.3 440.5 308.6 442.2 310C443.9 311.4 445.4 312.4 447.1 313.2C448.9 314 450.4 314.4 452.7 315C454.9 315.6 458 316.3 460.6 316.6C463.2 316.9 466 316.9 468.6 316.6C471.2 316.3 473.9 315.7 476.5 315C479.1 314.3 481.8 313.4 484.4 312.3C487 311.2 489.8 309.8 492.4 308.3C495 306.8 497.8 305.3 500.3 303.5C502.8 301.7 505.4 299.6 507.5 297.6C509.6 295.6 511.1 293.6 513 291.3C514.9 289.1 517 286.5 518.6 284.1C520.2 281.7 521.2 279.5 522.5 277C523.8 274.5 525.4 271.1 526.5 269C527.6 266.9 528.3 265.9 528.9 264.3C529.5 262.7 530 261.4 530.1 259.5C530.2 257.6 529.5 255.1 529.2 253.2C528.9 251.2 528.5 250 528.3 247.8C528.1 245.6 528.1 242.6 527.8 240C527.5 237.4 527.3 234.8 526.7 232.2C526.1 229.6 525.3 226.8 524.4 224.4C523.5 222 522.4 219.8 521.1 217.8C519.8 215.8 518 214 516.7 212.2C515.4 210.3 514.2 208.5 513.3 206.7C512.4 204.8 511.8 202.8 511.1 201.1C510.4 199.4 510 198 508.9 196.7C507.8 195.4 505.9 194.6 504.4 193.3C502.9 192 501.8 190.4 500 189C498.2 187.6 495.9 186.7 493.7 185.1C491.5 183.5 490 181 486.7 179.2C483.4 177.4 478.2 175.6 474 174.1C469.8 172.6 465.5 171.3 461.3 170.3C457.1 169.3 452.8 168.4 448.6 168.3Z"/>
<path fill="#4169E1" d="M400 208.1C401.5 206.3 403.2 203.8 404.8 201.7C406.4 199.6 407.6 197.5 409.5 195.4C411.4 193.3 413.8 191 415.9 189C418 187 419.8 185.1 422.2 183.5C424.6 181.9 427.5 180.6 430.2 179.5C432.9 178.4 435.5 177.8 438.1 177.1C440.7 176.4 443.6 175.7 446 175.6C448.4 175.5 450.3 175.7 452.4 176.3C454.5 177 456.6 178.6 458.7 179.5C460.8 180.4 463 181.6 465.1 181.9C467.2 182.2 469.3 181 471.4 181.1C473.5 181.2 475.7 181.8 477.8 182.7C479.9 183.6 482.1 185.1 484.1 186.5C486.1 187.9 488.1 189.5 490 191C491.9 192.5 493.8 194 495.6 195.6C497.5 197.2 499.4 198.9 501.1 200.6C502.8 202.3 504.5 204 505.6 205.6C506.7 207.2 507 208.4 507.8 210C508.6 211.6 509.6 213.3 510.6 215C511.6 216.7 513 218.6 513.9 220C514.8 221.4 515.6 221.8 516.1 223.3C516.6 224.8 516.3 227.2 516.7 228.9C517.1 230.6 517.6 231.8 518.3 233.3C519 234.8 520.5 236.1 521.1 237.8C521.8 239.5 522 241.3 522.2 243.3C522.4 245.3 522.3 247.7 522.4 250C522.5 252.3 522.5 255 522.6 257C522.7 259 523.3 259.5 523 262C522.7 264.5 522.2 268.7 521 272C519.8 275.3 517.8 279 516 282C514.2 285 512 287.5 510 290C508 292.5 506.6 294.5 504 297C501.4 299.5 497.8 302.8 494.3 305C490.8 307.2 486.7 309.2 482.9 310.5C479.1 311.8 475.2 312.8 471.4 313C467.6 313.2 463.4 312.7 460 312C456.6 311.3 453.6 310.1 451.1 308.7C448.6 307.3 446.7 305.2 444.8 303.7C442.9 302.2 441.4 300.9 439.7 299.8C438 298.7 436.3 297.3 434.6 297.3C432.9 297.3 431.6 299.4 429.5 299.8C427.4 300.2 424.2 300.4 421.9 299.8C419.6 299.2 417.3 297.7 415.6 296C413.9 294.3 412.6 292 411.7 289.7C410.8 287.4 410.5 284.7 410.5 282.1C410.5 279.6 411.9 276.7 411.7 274.4C411.5 272.1 410.7 270 409.2 268.1C407.7 266.2 404.8 264.9 402.9 263C401 261.1 399.3 259 397.8 256.7C396.3 254.4 395.1 252 394 249C392.9 246 392 242.3 391.4 238.9C390.8 235.5 390 232.1 390.2 228.7C390.4 225.3 391.7 221.3 392.7 218.6C393.7 215.9 394.8 214.2 396 212.5C397.2 210.8 398.5 209.9 400 208.1Z"/>
<path fill="#0000CD" d="M403.1 238.5C402.6 236.1 401.7 232.5 401.4 230C401.1 227.5 400.8 225.3 401.4 223.3C402 221.3 403.7 219.7 405.3 217.8C406.9 216 409 214.2 410.9 212.2C412.8 210.2 414.7 207.8 416.4 205.6C418.1 203.4 419.4 200.9 420.9 198.9C422.4 196.9 423.6 195.1 425.3 193.3C427 191.5 429 189.8 430.9 188.3C432.8 186.8 434.5 185.4 436.4 184.4C438.2 183.4 439.9 182.8 442 182.2C444.1 181.6 447.1 181 449.2 181.1C451.3 181.2 453.1 181.9 454.8 182.7C456.5 183.5 457.8 185.1 459.5 185.9C461.2 186.7 463.4 187.5 465.1 187.5C466.8 187.5 468.2 185.9 469.8 185.9C471.4 185.9 472.5 186.7 474.6 187.5C476.7 188.3 479.9 189.2 482.5 190.6C485.1 191.9 488.3 193.9 490.3 195.6C492.3 197.3 493 198.8 494.4 200.6C495.8 202.4 497.4 204.6 498.9 206.7C500.4 208.8 502 210.9 503.3 213.3C504.6 215.7 505.6 218.9 506.7 221.1C507.8 223.3 508.9 224.7 510 226.7C511.1 228.7 512.3 231.3 513.3 233.3C514.3 235.3 515.3 236.9 516.1 238.9C516.9 240.9 517.8 243.4 518.3 245.6C518.8 247.8 519 249.8 519.1 252.2C519.2 254.6 519.2 257.7 518.9 260C518.6 262.3 518.2 263.8 517.5 266C516.8 268.2 515.8 270.7 514.5 273C513.2 275.3 511.6 278 510 280C508.4 282 506.7 283.6 505 285C503.3 286.4 501.9 287 500 288.6C498.1 290.2 496.1 292.7 493.7 294.8C491.3 296.9 488.3 299.4 485.7 301.1C483.1 302.8 480.4 304.2 477.8 305.1C475.2 306 472.5 306.6 469.8 306.7C467.1 306.8 464.4 306.7 461.9 305.9C459.4 305.1 456.6 303.2 454.8 301.9C453 300.6 452 299.2 450.8 297.9C449.6 296.6 448.7 294.9 447.6 294C446.5 293.1 446.1 292.8 444.4 292.4C442.7 292 439.3 292.1 437.3 291.6C435.3 291.1 433 290.6 432.5 289.2C432 287.8 434 285.3 434.1 282.9C434.2 280.5 434.1 277.3 433.3 274.9C432.5 272.5 431.2 270.6 429.4 268.6C427.5 266.6 424.4 264.1 422.2 263C420 261.9 418.3 263.1 416.4 262.2C414.5 261.3 412.6 259.7 410.9 257.8C409.2 256 407.5 253.3 406.4 251.1C405.3 248.9 404.8 246.5 404.2 244.4C403.6 242.3 403.6 240.9 403.1 238.5Z"/>
<path fill="#0000CD" d="M421 286.4C422 285.5 425.7 285.2 427 285.6C428.3 286 429.2 287.9 429 289C428.8 290.1 427.3 291.6 426 292C424.7 292.4 421.8 292.1 421 291.2C420.2 290.3 420 287.3 421 286.4Z"/>
<path fill="#9370DB" d="M415.9 227.1C415.9 225.3 416 224.2 416.7 222.4C417.4 220.6 418.8 218.4 419.8 216C420.9 213.6 421.7 210.9 423 208.1C424.3 205.3 426.4 201.9 427.8 199.4C429.2 196.9 430 194.8 431.7 193C433.4 191.2 435.7 189.4 438.1 188.3C440.5 187.2 443.6 186.8 446 186.7C448.4 186.6 450.3 186.8 452.4 187.5C454.5 188.2 456.3 189.8 458.7 190.6C461.1 191.4 464 191.5 466.7 192.2C469.4 192.9 472 193.7 474.6 194.6C477.2 195.5 479.9 196.5 482.5 197.8C485.1 199.1 488.3 200.6 490.3 202.3C492.3 204 493 205.8 494.4 207.8C495.8 209.8 497.6 212 498.9 214.4C500.2 216.8 501.1 219.6 502.2 222.2C503.3 224.8 504.6 227.6 505.6 230C506.6 232.4 507.6 234.5 508.3 236.7C509 238.9 509.6 241.1 510 243.3C510.4 245.5 510.6 247.7 510.6 250C510.6 252.3 510.3 255 510 257C509.7 259 509.6 260 509 262C508.4 264 507.4 266.8 506.5 269C505.6 271.2 504.6 273.4 503.5 275.5C502.4 277.6 501.6 279.2 500 281.3C498.4 283.4 495.8 286.1 493.7 288.4C491.6 290.6 489.7 292.9 487.3 294.8C484.9 296.7 482 298.2 479.4 299.5C476.8 300.8 474 302.2 471.4 302.7C468.8 303.2 466.1 303.1 463.5 302.7C460.9 302.3 457.7 301.6 455.6 300.3C453.5 299 452.1 296.9 450.8 294.8C449.5 292.7 448.4 289.7 447.6 287.6C446.8 285.5 447.1 284.4 446 282.1C444.9 279.9 442.9 276.6 441.3 274.1C439.7 271.6 438.1 269.2 436.5 267C434.9 264.8 433.8 262.9 431.7 260.6C429.6 258.4 425.8 255.9 423.8 253.5C421.8 251.1 420.7 248.6 419.8 246.3C418.9 244.1 418.9 242.2 418.3 240C417.8 237.8 416.9 235.2 416.5 233C416.1 230.8 415.9 228.9 415.9 227.1Z"/>
<g transform="translate(144.7 -458)" fill="none" stroke="#000" stroke-width="1.05" stroke-linejoin="round" stroke-linecap="round">
<path d="M198.8 646.6 199.3 647.5 200.2 650.4 199.8 653.7 200.7 657 201.7 660.4 203.1 663.2 204.5 665.6 205 668.5 206 670.9 207.9 671.8 210.7 671.3 213.6 669.9 217.4 670.4 221.2 671.3 225 672.8 228.8 674.2 231.7 676.1 234 678 236 680.9 237.9 684.2 239.8 687.5 241.2 686.6 243.1 683.7 245 681.8 248 680.8 251.7 679.2 255 677.7 258.6 674.9 260.7 671.3 261.4 664.9 262.9 657.7 264.3 652 266.4 647 269.3 642.7 272.1 639.1 271.9 636.3 273.6 634.6 275 636.3 276.4 637 276.7 634.1 278.6 632.7 280.4 634.6 282.4 634.1 283.3 631.3 285 629.9 286.1 632.7 287.1 634.1 290 633.1 292.9 630.9 296.4 629.9 300.7 630.3 305 631.3 309.3 632.7 313.6 634.6 317.9 637 322.1 637.4 326.4 638 330.7 639.1 333.3 640.3 334.3 637 335.3 638.4 335.7 642 337.1 645.6 339.7 645.2 342.9 643.2 346.8 643.6 350.7 645.8 353.9 648.7 356.5 650.9 358.7 649.4 361.7 648.7 364.2 650 366.2 653.3 365.5 657.1 364.9 659.7 366.2 663.6 367.5 668.8 368.8 673.3 370.3 676.5 366.8 678.4 362.9 680.1 360.7 682.3 362.9 683.2 364.9 684.9 365.5 687.5 368.1 689.4 371.3 690.7 373.9 693.6 376.5 697.2 378.8 701.1 380.1 706.2 381 711.4 380.6 717.9 380.1 723 381.9 728.6 380 732.1 377.9 735 375 737.9 375.7 740.7 377.6 742.9 376.7 746.4 374.3 748.6 371.4 750.4 369 752.9 367.1 755.7 366.1 759.3 363.6 762.1 362.1 764.7 360 765.7 357.9 766.4 359.3 768.6 360 770.7 357.9 772.9 355 775 351.4 777.1 347.9 779 344.3 780.7 342.1 782.1 340 781 337.9 780.4 335 780 332.4 781 330 782.4 327.6 781.9 325 783.3 322.9 783.9 320.7 782.9 317.9 783.6 315 784.3 312.9 783.3 311.9 780.4 311 782.9 309.3 782.1 306.4 781.9 303.6 780.7 300.7 779.6 299.3 776.4 300 772.9 302.1 769.3 303.6 765.7 305 762.1 303.9 757.9 302.1 754.3 300 751.4 301.4 748.6 302.1 745 300.7 740.7 298.6 737.9 296.4 736.1 294.8 734.9 292.4 733.4 290 732.8 288.1 731.5 286.7 730.1 284.8 728.7 283.5 727.2 282.4 725.3 280.5 723.9 278.1 723.2 276.7 724.4 277.1 727.2 276.2 730.6 274.8 734.4 273.3 737.7 271.4 738.7 269 738.2 267.1 737.7 267.6 739.6 268.6 743.4 269.5 747.2 270.2 750.1 270 753 269 755.3 267.1 754.9 265.7 753 264.8 750.1 262.9 749.1 260.5 749.6 259 751.5 258.8 753.6 257.7 753.8 255.5 753.7 252.7 752.9 249.9 752 247.2 751.1 244.9 749.8 244.9 745.3 244.4 743.3 243.3 741.4 237.7 742.6 233.9 744 232.4 744.2 232.7 742.2 231.3 741.4 231.9 739.6 233.3 738.1 231.9 736.7 233.8 736 234.6 734.2 232.2 732.7 229.4 731.8 231.3 731.1 231.9 729.8 229.7 729.8 228.6 728.2 230.2 727.3 231.7 727 231.3 724.4 230.5 721.4 229.4 718.7 227.7 719.2 225.5 719.8 223.3 719.8 223.9 717.8 223.8 715.9 222.4 717.8 221.7 719.8 221.1 721.8 219.7 722 217.9 721.1 217.3 719.2 217.2 716.4 217.9 714.8 219.4 712 219.9 707.6 220.5 703.1 221.3 699.2 221.6 696.5 221.4 694.3 220.7 693.2 221.7 691.8 224 690.4 225.5 688.5 225.8 685.6 224.5 682.3 221.7 680.4 217.4 679.1 212.6 678.5 212.1 677 210.7 675.6 208.8 674.7 206.4 674 205.5 675.6 203.6 675.6 202.6 674.2 203.6 672.3 202.1 670.4 200.7 666.6 199.3 662.8 198.3 659.9 197.6 657 197.4 652.3 197.9 648Z"/>
<path d="M208.3 680.9 210 679.7 213.6 679.6 218.3 680.9 221.7 681.8 223.1 683.7 222.1 686.6 219.8 689 216.9 690.2 215 689.4 216 687 216.4 683.7 214.5 682 210.7 682Z"/>
<path d="M210.9 687.5 211.5 686.4 212.7 686.3 213.4 687.4 212.9 688.6 211.6 688.7Z"/>
<path d="M192.6 647.8 192.2 651.5 192.2 655.2"/>
<path d="M193.1 648.4 192.8 652 192.7 654.6"/>
<path fill="#000" d="M199.3 647.2 201.2 647 200.4 648.2Z"/>
<path d="M200.7 652 202.2 653.2 201 654.4Z"/>
<path d="M200.2 649 201.4 650.2 200.4 651Z"/>
<path fill="#000" d="M196 660.4 197.6 660.2 198.4 661.8 197.8 663.8 196.4 663.4 196.9 662Z"/>
<path d="M204.6 667 205.6 666.2 206 667.6"/>
<path fill="#000" d="M202.5 625.3 204.7 624.5 204.9 625.9 202.9 626.6Z"/>
<path d="M157.6 653.6 158.8 655.6 157.4 657.8 156.6 660.4"/>
<path d="M158.6 652 159.4 654"/>
<path d="M274.3 745.3 275.7 744.4 276.7 745.8 276.2 748.7 275 750.1 274 748.7Z"/>
<path d="M297.2 755.8 298.4 755.4 299.2 756.4 298.2 757.3 297.3 756.9Z"/>
<path d="M259.3 753.2 260.5 752.6 261 753.8 260 754.5Z"/>
</g>
</g>
<circle cx="432.8" cy="250.2" r="8.3" fill="#fff"/>
<circle cx="432.7" cy="250" r="141.5" fill="none" stroke="#181818" stroke-width="1.0"/>
<clipPath id="cp3"><circle cx="288" cy="708" r="141.5"/></clipPath>
<g clip-path="url(#cp3)" shape-rendering="geometricPrecision">
<rect x="144.5" y="564.5" width="287" height="287" fill="#F5E6BE"/>
<path fill="#93BC30" d="M157 652 159 653 166 658 174 665 187 667 189 676 192.4 687 192 694 183 697 181 706 176 714 175 723 168 732 163 740 158 747 154 751 151 754 138 754 138 650Z"/>
<path fill="#93BC30" d="M193.3 645.8 200.8 641.7 208 642.8 215 645 223.3 652.5 230.8 659.2 238 659.2 245 660 246.7 665 244.2 669.2 236.7 667.5 230 662.5 221.7 658.3 213.3 655.8 205.8 655 203.3 659.2 196.7 658.3 193.3 651.7Z"/>
<path fill="#93BC30" d="M177.1 755.8 189 760.5 191.4 768.5 196.2 775.6 203.3 776.4 208.1 781.2 209.7 789.1 208.1 798.6 201.7 807.3 197 806.6 190.6 800.2 185.9 792.3 179.5 782.7 174 774.8 175 764Z"/>
<path fill="#93BC30" d="M230.5 838 229.5 836 224.8 828.8 219.2 821.2 222.4 819.3 227.1 820.8 232.7 815.3 234.3 803.4 241.4 801.8 249.4 801.8 255.7 805.8 262.1 810 272 816 282 820 288 822 296 817 308 813 322 809 336 807.5 348.6 804.3 358.6 800 368.6 792.9 378.6 785.7 388.6 777.1 397.1 768.6 404.3 761.4 411.4 755.7 420 756.4 423 755 440 752 440 862 225 862Z"/>
<path fill="#BCEE68" d="M366 813 368 806 376 800.5 387.1 790 394.3 781.4 400 774.3 405 769.3 407.1 778.6 402.9 787.1 395.7 795.7 387.1 804.3 381 811.5 375 817.5Z"/>
<path fill="#93BC30" d="M355.5 583 355 585 353 593 358 599 368 603.5 378 605.5 386 608 392 612.5 394.4 620 392.4 630 393 640 396.4 650 402.4 657 410 662.4 415 663 421 658 436 655 420 590 360 572Z"/>
<path fill="#93BC30" d="M380 660 383 656 389 654 393 657 397 664 402 669 408 665 415 662 415.6 669 419 673 425 677 427.6 684 427.1 690 424.3 695.7 417.1 701.4 408.6 706.4 402.9 697.1 395.7 690 391 684 386 676 381 668Z"/>
<path fill="#93BC30" d="M346 631.5 354 630 366 630.2 371.5 633 373.5 638.5 371 646 370 654 364.5 651 357 646.5 350 644.5 343 643 345 636Z"/>
<path fill="#93BC30" d="M428.6 713 427.3 718 428 725 434 725 434 713Z"/>
<path fill="#93BC30" d="M274.3 770.1 277.6 759.6 278.1 770.1Z"/>
<path fill="#DEB887" d="M236 579 239 568 284 558 284 567.6 296 571.6 312 575 326 578 334 582 341 589 345 597 349 605 342 610 334 615 326 620.5 321 624.4 316.5 628.3 312.7 631.7 310.2 631.4 307 629.5 305.7 626.3 304.4 623.2 300 622.9 296 628 288 633 282 639 276 646 270.8 650 265 648.3 258.3 643.3 253.6 636.7 255 627 249 624 240 620 234 613 239 606 242 596 239 588Z"/>
<path fill="#F5E6BE" d="M251 617 256 613 263 612.4 260 616 255 619.4Z"/>
<path fill="#DEB887" d="M185 616 194 615 192 620 187 623Z"/>
<path fill="#DEB887" d="M357 608.3 361 611.3 365.2 615.8 364.4 616.6 360 613.2 356.4 609.4Z"/>
<path fill="#DEB887" d="M236 722 244 721 254 723 261.4 721 264.3 722 265.7 726.3 265.2 733 264.3 740.6 263.8 748.2 263.3 753.9 262.9 761.5 261.9 767.2 263.5 771 268 775 271 781 273.5 786.5 280 793 288 789 296 785 306 785 318 787 328 785 336 783 339 775 340 764.3 344.3 758.6 350 750 355.7 740 360 731.4 364.3 721.4 368.6 711.4 373.6 702.9 382.9 700 396.4 699.7 401.4 704.3 403.6 712.9 402.9 722.9 401.4 735.7 400.7 747.1 398.6 757.1 392.9 764.3 385.7 771.4 377.1 778.6 367.1 785.7 358.6 792.1 351.4 797.1 345.7 796.4 341 795.5 336 799 328 801 318 802 306 804 294 807 284 805 276 802 270 795 260 791.7 251.7 787.5 243.3 785 236.7 778.3 230 770 223.3 764 229 756 233 748 235 740 234 730Z"/>
<path fill="#F5E6BE" d="M377.1 708.6 380.7 704.3 385 704.3 387.9 710 387.1 717.1 384.3 724.3 381.4 727.1 379.3 718.6 376.9 713.6Z"/>
<path fill="#F5E6BE" d="M360 772.1 362.9 767.1 367.1 761.4 371.4 757.1 369.3 764.3 365.7 770.7 362.1 773.6Z"/>
<path fill="#DEB887" d="M284.3 762C284.5 759.7 284.9 758.2 285.5 757C286.1 755.8 287.1 755 288 755C288.9 755 290.2 755.6 291 756.8C291.8 758 292.3 760 292.6 762C292.9 764 293.3 766.7 293 769C292.7 771.3 292 774.8 291 776C290 777.2 288.1 777.3 287 776.5C285.9 775.7 284.9 773.4 284.5 771C284.1 768.6 284.1 764.3 284.3 762Z"/>
<path fill="#FFDC00" d="M271.9 599.8C273.1 597.6 277 595.6 279.5 594C282 592.4 284.2 591.3 287.1 590.2C290 589.1 293.5 587.5 296.7 587.4C299.9 587.2 303.3 588.2 306.2 589.3C309.1 590.4 312.1 592.2 313.8 594C315.6 595.8 316.4 597.7 316.7 599.8C317 601.9 316.6 604.3 315.7 606.4C314.8 608.5 312.9 610.5 311 612.1C309.1 613.7 306.7 614.6 304.3 616C301.9 617.4 298.9 619.1 296.7 620.7C294.5 622.3 292.9 624.1 291 625.5C289.1 626.9 287.1 628.3 285.2 629.3C283.3 630.2 281.4 630.7 279.5 631.2C277.6 631.7 275.7 631.3 273.8 632.1C271.9 632.9 269.7 635 268.1 636C266.5 637 265.1 638.9 264.3 637.9C263.5 636.9 263.2 632.8 263.3 630.2C263.4 627.7 264.1 625.1 265.2 622.6C266.3 620.1 268.8 617.5 270 615C271.2 612.5 272 609.9 272.3 607.4C272.6 604.9 270.7 602 271.9 599.8Z"/>
<path fill="#FFDC00" d="M392.1 706.4 396.4 703.6 400 707.9 401.1 714.3 400 722.9 398.6 732.9 397.9 742.9 395.7 751.4 390 758.6 382.9 767.1 375.7 775.7 368.6 781.4 370 775.7 375.7 765.7 379.3 757.1 380.7 747.1 384.3 737.1 387.9 728.6 390.7 720 391.7 712.9Z"/>
<path fill="#FFDC00" d="M242.5 736.7C243.1 735.7 244.9 734.7 246.7 734.7C248.5 734.7 251.5 735.3 253.3 736.7C255.1 738.1 256.6 740.8 257.5 743.3C258.4 745.8 258.6 748.9 258.5 751.7C258.4 754.5 257.8 757.6 256.7 760C255.6 762.4 253.6 764.3 251.7 765.8C249.8 767.2 247.1 768.4 245 768.7C242.9 769 240.6 768.4 239.2 767.5C237.8 766.6 236.6 764.8 236.3 763.3C236 761.8 236.6 760 237.5 758.3C238.4 756.6 240.6 755.2 241.7 753.3C242.8 751.4 244 748.8 244.2 746.7C244.4 744.6 243.3 742.5 243 740.8C242.7 739.1 241.9 737.7 242.5 736.7Z"/>
<path fill="#FFDC00" d="M288 794 294 790 301 791 304.4 794 301 799 294 801.4 291 799Z"/>
<path fill="#FFDC00" d="M319 799 326 796.6 323 800Z"/>
<path fill="#FFDC00" d="M286.7 759.6 288.1 758.2 290 758.7 291 761 290 765.3 288.6 769.1 287.6 766.3 286.7 762.5Z"/>
<g transform="translate(0 0)" fill="none" stroke="#000" stroke-width="1.05" stroke-linejoin="round" stroke-linecap="round">
<path d="M198.8 646.6 199.3 647.5 200.2 650.4 199.8 653.7 200.7 657 201.7 660.4 203.1 663.2 204.5 665.6 205 668.5 206 670.9 207.9 671.8 210.7 671.3 213.6 669.9 217.4 670.4 221.2 671.3 225 672.8 228.8 674.2 231.7 676.1 234 678 236 680.9 237.9 684.2 239.8 687.5 241.2 686.6 243.1 683.7 245 681.8 248 680.8 251.7 679.2 255 677.7 258.6 674.9 260.7 671.3 261.4 664.9 262.9 657.7 264.3 652 266.4 647 269.3 642.7 272.1 639.1 271.9 636.3 273.6 634.6 275 636.3 276.4 637 276.7 634.1 278.6 632.7 280.4 634.6 282.4 634.1 283.3 631.3 285 629.9 286.1 632.7 287.1 634.1 290 633.1 292.9 630.9 296.4 629.9 300.7 630.3 305 631.3 309.3 632.7 313.6 634.6 317.9 637 322.1 637.4 326.4 638 330.7 639.1 333.3 640.3 334.3 637 335.3 638.4 335.7 642 337.1 645.6 339.7 645.2 342.9 643.2 346.8 643.6 350.7 645.8 353.9 648.7 356.5 650.9 358.7 649.4 361.7 648.7 364.2 650 366.2 653.3 365.5 657.1 364.9 659.7 366.2 663.6 367.5 668.8 368.8 673.3 370.3 676.5 366.8 678.4 362.9 680.1 360.7 682.3 362.9 683.2 364.9 684.9 365.5 687.5 368.1 689.4 371.3 690.7 373.9 693.6 376.5 697.2 378.8 701.1 380.1 706.2 381 711.4 380.6 717.9 380.1 723 381.9 728.6 380 732.1 377.9 735 375 737.9 375.7 740.7 377.6 742.9 376.7 746.4 374.3 748.6 371.4 750.4 369 752.9 367.1 755.7 366.1 759.3 363.6 762.1 362.1 764.7 360 765.7 357.9 766.4 359.3 768.6 360 770.7 357.9 772.9 355 775 351.4 777.1 347.9 779 344.3 780.7 342.1 782.1 340 781 337.9 780.4 335 780 332.4 781 330 782.4 327.6 781.9 325 783.3 322.9 783.9 320.7 782.9 317.9 783.6 315 784.3 312.9 783.3 311.9 780.4 311 782.9 309.3 782.1 306.4 781.9 303.6 780.7 300.7 779.6 299.3 776.4 300 772.9 302.1 769.3 303.6 765.7 305 762.1 303.9 757.9 302.1 754.3 300 751.4 301.4 748.6 302.1 745 300.7 740.7 298.6 737.9 296.4 736.1 294.8 734.9 292.4 733.4 290 732.8 288.1 731.5 286.7 730.1 284.8 728.7 283.5 727.2 282.4 725.3 280.5 723.9 278.1 723.2 276.7 724.4 277.1 727.2 276.2 730.6 274.8 734.4 273.3 737.7 271.4 738.7 269 738.2 267.1 737.7 267.6 739.6 268.6 743.4 269.5 747.2 270.2 750.1 270 753 269 755.3 267.1 754.9 265.7 753 264.8 750.1 262.9 749.1 260.5 749.6 259 751.5 258.8 753.6 257.7 753.8 255.5 753.7 252.7 752.9 249.9 752 247.2 751.1 244.9 749.8 244.9 745.3 244.4 743.3 243.3 741.4 237.7 742.6 233.9 744 232.4 744.2 232.7 742.2 231.3 741.4 231.9 739.6 233.3 738.1 231.9 736.7 233.8 736 234.6 734.2 232.2 732.7 229.4 731.8 231.3 731.1 231.9 729.8 229.7 729.8 228.6 728.2 230.2 727.3 231.7 727 231.3 724.4 230.5 721.4 229.4 718.7 227.7 719.2 225.5 719.8 223.3 719.8 223.9 717.8 223.8 715.9 222.4 717.8 221.7 719.8 221.1 721.8 219.7 722 217.9 721.1 217.3 719.2 217.2 716.4 217.9 714.8 219.4 712 219.9 707.6 220.5 703.1 221.3 699.2 221.6 696.5 221.4 694.3 220.7 693.2 221.7 691.8 224 690.4 225.5 688.5 225.8 685.6 224.5 682.3 221.7 680.4 217.4 679.1 212.6 678.5 212.1 677 210.7 675.6 208.8 674.7 206.4 674 205.5 675.6 203.6 675.6 202.6 674.2 203.6 672.3 202.1 670.4 200.7 666.6 199.3 662.8 198.3 659.9 197.6 657 197.4 652.3 197.9 648Z"/>
<path d="M208.3 680.9 210 679.7 213.6 679.6 218.3 680.9 221.7 681.8 223.1 683.7 222.1 686.6 219.8 689 216.9 690.2 215 689.4 216 687 216.4 683.7 214.5 682 210.7 682Z"/>
<path d="M210.9 687.5 211.5 686.4 212.7 686.3 213.4 687.4 212.9 688.6 211.6 688.7Z"/>
<path d="M192.6 647.8 192.2 651.5 192.2 655.2"/>
<path d="M193.1 648.4 192.8 652 192.7 654.6"/>
<path fill="#000" d="M199.3 647.2 201.2 647 200.4 648.2Z"/>
<path d="M200.7 652 202.2 653.2 201 654.4Z"/>
<path d="M200.2 649 201.4 650.2 200.4 651Z"/>
<path fill="#000" d="M196 660.4 197.6 660.2 198.4 661.8 197.8 663.8 196.4 663.4 196.9 662Z"/>
<path d="M204.6 667 205.6 666.2 206 667.6"/>
<path fill="#000" d="M202.5 625.3 204.7 624.5 204.9 625.9 202.9 626.6Z"/>
<path d="M157.6 653.6 158.8 655.6 157.4 657.8 156.6 660.4"/>
<path d="M158.6 652 159.4 654"/>
<path d="M274.3 745.3 275.7 744.4 276.7 745.8 276.2 748.7 275 750.1 274 748.7Z"/>
<path d="M297.2 755.8 298.4 755.4 299.2 756.4 298.2 757.3 297.3 756.9Z"/>
<path d="M259.3 753.2 260.5 752.6 261 753.8 260 754.5Z"/>
</g>
</g>
<circle cx="288.1" cy="708.2" r="8.3" fill="#fff"/>
<circle cx="288" cy="708" r="141.5" fill="none" stroke="#181818" stroke-width="1.0"/>
<text class="ser" x="3.8" y="422.8" textLength="44" lengthAdjust="spacingAndGlyphs">MEAN=</text>
<text class="num" x="94.7" y="422.8" text-anchor="end">1.76</text>
<text class="ser" x="108.3" y="422.8" textLength="31.5" lengthAdjust="spacingAndGlyphs">Min=</text>
<text class="num" x="186.2" y="422.8" text-anchor="end">0.06</text>
<text class="ser" x="200.3" y="422.8" textLength="34" lengthAdjust="spacingAndGlyphs">Max=</text>
<text class="num" x="281.8" y="422.8" text-anchor="end">3.92</text>
<text class="ser" x="293.8" y="422.8" textLength="44" lengthAdjust="spacingAndGlyphs">MEAN=</text>
<text class="num" x="384.7" y="422.8" text-anchor="end">1.61</text>
<text class="ser" x="398.3" y="422.8" textLength="31.5" lengthAdjust="spacingAndGlyphs">Min=</text>
<text class="num" x="476.2" y="422.8" text-anchor="end">0.03</text>
<text class="ser" x="490.3" y="422.8" textLength="34" lengthAdjust="spacingAndGlyphs">Max=</text>
<text class="num" x="571.8" y="422.8" text-anchor="end">3.98</text>
<g stroke="#000" stroke-width="0.7">
<rect x="5" y="432.5" width="17.2" height="14" fill="#9370DB"/>
<rect x="22.2" y="432.5" width="17.2" height="14" fill="#0000CD"/>
<rect x="39.4" y="432.5" width="17.2" height="14" fill="#4169E1"/>
<rect x="56.6" y="432.5" width="17.2" height="14" fill="#7397EE"/>
<rect x="73.8" y="432.5" width="17.2" height="14" fill="#B0E0E6"/>
<rect x="91" y="432.5" width="17.2" height="14" fill="#20B2AA"/>
<rect x="108.2" y="432.5" width="17.2" height="14" fill="#BCEE68"/>
<rect x="125.4" y="432.5" width="17.2" height="14" fill="#93BC30"/>
<rect x="142.6" y="432.5" width="17.2" height="14" fill="#F5E6BE"/>
<rect x="159.8" y="432.5" width="17.2" height="14" fill="#DEB887"/>
<rect x="177" y="432.5" width="17.2" height="14" fill="#FFDC00"/>
<rect x="194.2" y="432.5" width="17.2" height="14" fill="#FFA500"/>
<rect x="211.4" y="432.5" width="17.2" height="14" fill="#FF4500"/>
<rect x="228.6" y="432.5" width="17.2" height="14" fill="#B22222"/>
<rect x="245.8" y="432.5" width="17.2" height="14" fill="#FFB6C1"/>
<rect x="263" y="432.5" width="17.2" height="14" fill="#FF1493"/>
</g>
<g class="num" text-anchor="middle">
<text x="22.5" y="462.3">0.3</text>
<text x="56.9" y="462.3">0.7</text>
<text x="91.3" y="462.3">1.5</text>
<text x="125.7" y="462.3">2.5</text>
<text x="160.1" y="462.3">3.5</text>
<text x="194.5" y="462.3">4.5</text>
<text x="228.9" y="462.3">6</text>
<text x="263.3" y="462.3">8</text>
</g>
<g stroke="#000" stroke-width="0.7">
<rect x="295.2" y="432.5" width="17.2" height="14" fill="#9370DB"/>
<rect x="312.4" y="432.5" width="17.2" height="14" fill="#0000CD"/>
<rect x="329.6" y="432.5" width="17.2" height="14" fill="#4169E1"/>
<rect x="346.8" y="432.5" width="17.2" height="14" fill="#7397EE"/>
<rect x="364" y="432.5" width="17.2" height="14" fill="#B0E0E6"/>
<rect x="381.2" y="432.5" width="17.2" height="14" fill="#20B2AA"/>
<rect x="398.4" y="432.5" width="17.2" height="14" fill="#BCEE68"/>
<rect x="415.6" y="432.5" width="17.2" height="14" fill="#93BC30"/>
<rect x="432.8" y="432.5" width="17.2" height="14" fill="#F5E6BE"/>
<rect x="450" y="432.5" width="17.2" height="14" fill="#DEB887"/>
<rect x="467.2" y="432.5" width="17.2" height="14" fill="#FFDC00"/>
<rect x="484.4" y="432.5" width="17.2" height="14" fill="#FFA500"/>
<rect x="501.6" y="432.5" width="17.2" height="14" fill="#FF4500"/>
<rect x="518.8" y="432.5" width="17.2" height="14" fill="#B22222"/>
<rect x="536" y="432.5" width="17.2" height="14" fill="#FFB6C1"/>
<rect x="553.2" y="432.5" width="17.2" height="14" fill="#FF1493"/>
</g>
<g class="num" text-anchor="middle">
<text x="312.7" y="462.3">0.3</text>
<text x="347.1" y="462.3">0.7</text>
<text x="381.5" y="462.3">1.5</text>
<text x="415.9" y="462.3">2.5</text>
<text x="450.3" y="462.3">3.5</text>
<text x="484.7" y="462.3">4.5</text>
<text x="519.1" y="462.3">6</text>
<text x="553.5" y="462.3">8</text>
</g>
<g stroke="#000" stroke-width="0.7">
<rect x="506.2" y="619.5" width="33" height="14.2" fill="#FF1493"/>
<rect x="506.2" y="633.7" width="33" height="14.2" fill="#FFB6C1"/>
<rect x="506.2" y="647.9" width="33" height="14.2" fill="#B22222"/>
<rect x="506.2" y="662.1" width="33" height="14.2" fill="#FF4500"/>
<rect x="506.2" y="676.3" width="33" height="14.2" fill="#FFA500"/>
<rect x="506.2" y="690.5" width="33" height="14.2" fill="#FFDC00"/>
<rect x="506.2" y="704.7" width="33" height="14.2" fill="#DEB887"/>
<rect x="506.2" y="718.9" width="33" height="14.2" fill="#F5E6BE"/>
<rect x="506.2" y="733.1" width="33" height="14.2" fill="#93BC30"/>
<rect x="506.2" y="747.3" width="33" height="14.2" fill="#BCEE68"/>
<rect x="506.2" y="761.5" width="33" height="14.2" fill="#20B2AA"/>
<rect x="506.2" y="775.7" width="33" height="14.2" fill="#B0E0E6"/>
<rect x="506.2" y="789.9" width="33" height="14.2" fill="#7397EE"/>
<rect x="506.2" y="804.1" width="33" height="14.2" fill="#4169E1"/>
<rect x="506.2" y="818.3" width="33" height="14.2" fill="#0000CD"/>
<rect x="506.2" y="832.5" width="33" height="14.2" fill="#9370DB"/>
</g>
<g class="num" text-anchor="middle">
<text x="557.3" y="638.1">4</text>
<text x="557.3" y="652.3">3</text>
<text x="557.3" y="666.5">2</text>
<text x="557.3" y="680.7">1.5</text>
<text x="557.3" y="694.9">1</text>
<text x="557.3" y="709.1">0.5</text>
<text x="557.3" y="723.3">0.3</text>
<text x="557.3" y="737.5">0</text>
<text x="557.3" y="751.7">−0.3</text>
<text x="557.3" y="765.9">−0.5</text>
<text x="557.3" y="780.1">−1</text>
<text x="557.3" y="794.3">−1.5</text>
<text x="557.3" y="808.5">−2</text>
<text x="557.3" y="822.7">−3</text>
<text x="557.3" y="836.9">−4</text>
</g>
<text class="ser" x="446.6" y="594" textLength="22" lengthAdjust="spacingAndGlyphs">MIN</text>
<text class="ser" x="476" y="594" textLength="8.6" lengthAdjust="spacingAndGlyphs">=</text>
<path d="M499 589.7H506.4" stroke="#111" stroke-width="1" fill="none"/>
<text class="num" x="536.4" y="594" text-anchor="end" textLength="27.4" lengthAdjust="spacing">0.43</text>
<text class="ser" x="542.5" y="594" textLength="24.8" lengthAdjust="spacingAndGlyphs">MAX</text>
<text class="ser" x="574.8" y="594" textLength="8.6" lengthAdjust="spacingAndGlyphs">=</text>
<text class="num" x="629.8" y="594" text-anchor="end">0.88</text>
</svg>
</body></html>
